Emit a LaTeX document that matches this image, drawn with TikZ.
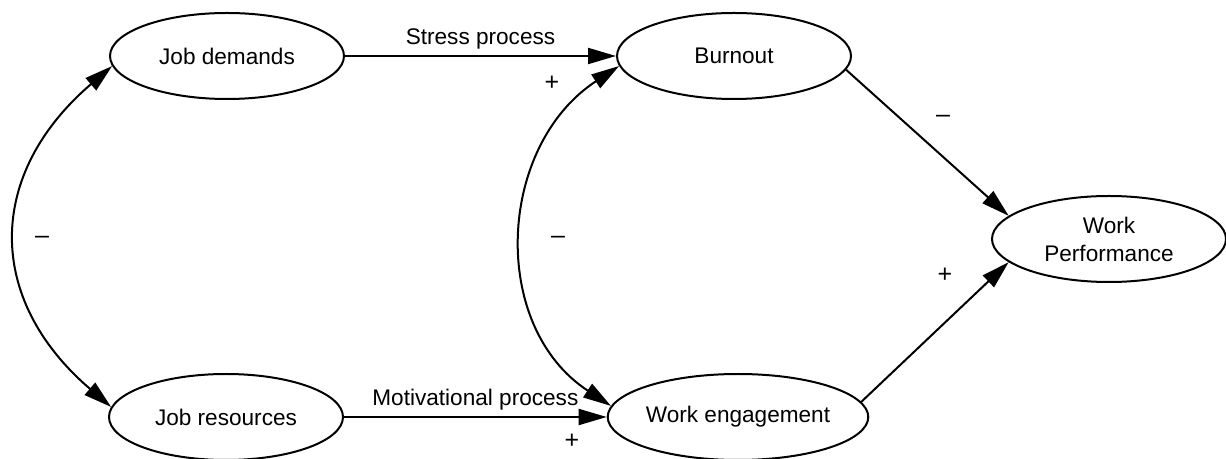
\documentclass[tikz,border=0pt]{standalone}
\usepackage{fontspec}
\setmainfont{Liberation Sans}
\usetikzlibrary{arrows.meta,shapes.geometric}
\begin{document}
\begin{tikzpicture}[x=0.5pt,y=-0.5pt,
  construct/.style={draw, ellipse, line width=1pt, minimum width=117pt,
    minimum height=43pt, inner sep=0pt, align=center,
    font=\fontsize{11.3}{14}\selectfont},
  effect/.style={line width=1pt, -{Triangle[length=14pt,width=8pt]}},
  covar/.style={line width=1pt,
    {Triangle[length=14pt,width=8pt]}-{Triangle[length=14pt,width=8pt]}},
  lbl/.style={font=\fontsize{11.3}{14}\selectfont, inner sep=0pt},
  sign/.style={font=\fontsize{12.5}{14}\selectfont, inner sep=0pt}]
\useasboundingbox (0,0) rectangle (1226,459);

% constructs
\node[construct] (jd) at (227,56)  {Job demands};
\node[construct] (bo) at (734,56)  {Burnout};
\node[construct] (jr) at (226,417) {Job resources};
\node[construct] (we) at (738,417) {Work engagement};
\node[construct] (wp) at (1109,239) {Work\\Performance};

% the two processes
\draw[effect] (jd) -- node[lbl, above=3pt] {Stress process} (bo);
\draw[effect] (jr) -- node[lbl, above=3pt] {Motivational process} (we);

% correlations
\draw[covar] (jd.185) .. controls +(-126,108) and +(-126,-108) .. (jr.175);
\draw[covar] (bo.185) .. controls +(-122,80) and +(-122,-80) .. (we.175);

% outcomes
\draw[effect] (bo.-7) -- (wp.167);
\draw[effect] (we.7) -- (wp.193);

% signs
\node[sign] (s1) at (42,240)  {–};
\node[sign] (s2) at (552,83)  {+};
\node[sign] (s3) at (558,240) {–};
\node[sign] (s4) at (572,441) {+};
\node[sign] (s5) at (943,119) {–};
\node[sign] (s6) at (945,275) {+};
\end{tikzpicture}
\end{document}
